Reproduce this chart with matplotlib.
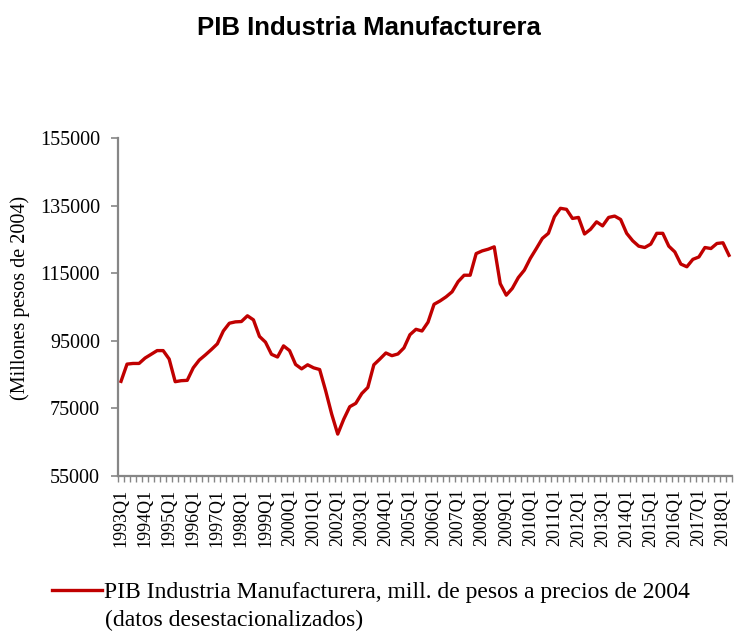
import matplotlib
matplotlib.use("Agg")
import matplotlib.pyplot as plt
import numpy as np

title = "PIB Industria Manufacturera"
ylabel = "(Millones pesos de 2004)"
series_label = "PIB Industria Manufacturera, mill. de pesos a precios de 2004"
series_note = "(datos desestacionalizados)"

years = list(range(1993, 2019))
quarters = [f"{y}Q{q}" for y in years for q in range(1, 5)][:102]  # 1993Q1 .. 2018Q2

values = [
    83000, 88100, 88300, 88300, 89900, 91000, 92100, 92100,   # 1993-1994
    89600, 82900, 83200, 83300, 87000, 89300, 90800, 92400,   # 1995-1996
    94100, 97900, 100200, 100600, 100700, 102400, 101200, 96300,  # 1997-1998
    94600, 91000, 90200, 93500, 92100, 88000, 86700, 87900,   # 1999-2000
    87000, 86500, 80200, 73300, 67400, 71800, 75500, 76500,   # 2001-2002
    79400, 81200, 87900, 89600, 91400, 90600, 91100, 92900,   # 2003-2004
    96800, 98400, 97900, 100500, 105800, 106800, 108000, 109500,  # 2005-2006
    112500, 114400, 114400, 120800, 121600, 122100, 122800, 111900,  # 2007-2008
    108500, 110500, 113700, 115900, 119400, 122300, 125300, 126800,  # 2009-2010
    131700, 134200, 133900, 131200, 131500, 126600, 128000, 130200,  # 2011-2012
    129000, 131500, 131900, 130900, 126800, 124600, 123000, 122600,  # 2013-2014
    123600, 126800, 126800, 123000, 121300, 117700, 116900, 119100,  # 2015-2016
    119800, 122600, 122300, 123800, 124000, 120300,           # 2017-2018Q2
]

yticks = [55000, 75000, 95000, 115000, 135000, 155000]

W, H = 738, 631
fig = plt.figure(figsize=(W / 100, H / 100), dpi=100)
ax = fig.add_axes([118 / W, 1 - 476 / H, (732 - 118) / W, (476 - 138) / H])

x = np.arange(len(values))
line, = ax.plot(x, values, color="#C00000", linewidth=2.4, solid_joinstyle="round",
                label=series_label)

ax.set_xlim(-0.5, len(values) - 0.5)
ax.set_ylim(55000, 155000)

serif = ["Liberation Serif", "DejaVu Serif"]
grey = "#868686"

for s in ["top", "right"]:
    ax.spines[s].set_visible(False)
for s in ["left", "bottom"]:
    ax.spines[s].set_color(grey)
    ax.spines[s].set_linewidth(1.6)

ax.set_yticks(yticks)
ax.set_yticklabels([str(v) for v in yticks], fontfamily=serif, fontsize=14.5)
ax.tick_params(axis="y", direction="out", length=5, width=1.2, color=grey, pad=8)

label_pos = [i for i, q in enumerate(quarters) if q.endswith("Q1")]
ax.set_xticks(label_pos)
ax.set_xticklabels([quarters[i] for i in label_pos], rotation=90, fontfamily=serif, fontsize=13)
ax.set_xticks(np.arange(-0.5, len(values), 1.0), minor=True)
ax.tick_params(axis="x", which="major", length=0, pad=9)
ax.tick_params(axis="x", which="minor", direction="out", length=4, width=1.0, color=grey)

ax.set_ylabel(ylabel, fontfamily=serif, fontsize=14.5)
ax.yaxis.set_label_coords(-0.143, 0.527)

fig.text(369 / W, 1 - 28 / H, title, ha="center", va="center",
         fontfamily="Liberation Sans", fontweight="bold", fontsize=18.5)

fig.legend(handles=[line], loc="center left", bbox_to_anchor=(52 / W, 1 - 592 / H),
           frameon=False, prop={"family": serif, "size": 17},
           handlelength=2.1, handletextpad=0.12, borderaxespad=0, borderpad=0)
fig.text(105 / W, 1 - 620 / H, series_note, ha="left", va="center",
         fontfamily=serif, fontsize=17)

fig.savefig("out.png", dpi=100)
